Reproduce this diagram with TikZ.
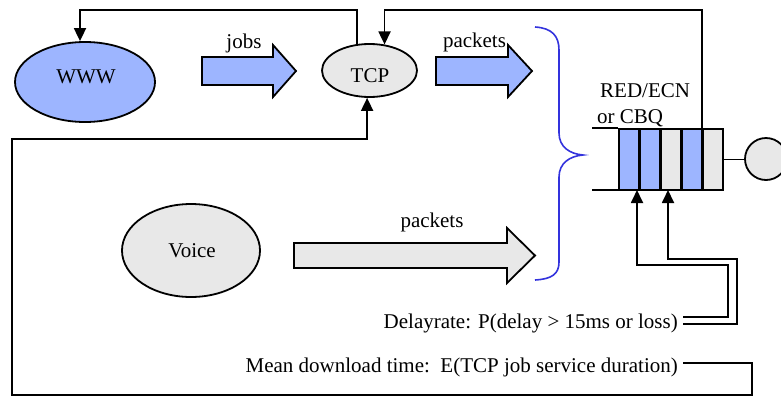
\documentclass[tikz,border=0pt]{standalone}
\usepackage{fontspec}
\setmainfont{Liberation Serif}
\usetikzlibrary{arrows.meta,shapes.geometric,calc}
\definecolor{qblue}{RGB}{157,181,255}
\definecolor{qgray}{RGB}{232,232,232}
\definecolor{bracecol}{RGB}{51,51,221}

\begin{document}
\begin{tikzpicture}[x=1pt,y=-1pt,
  font=\fontsize{21}{25}\selectfont,
  oval/.style={ellipse,draw,line width=1.8pt,inner sep=0pt},
  conn/.style={draw,line width=1.8pt},
  tip/.style={-{Triangle[width=12pt,length=13pt]}},
  blockarrow/.style={draw,line width=1.8pt,line join=miter},
  cell/.style={draw,line width=1.8pt,minimum width=20pt,minimum height=61pt,
    inner sep=0pt,anchor=north west},
  lbl/.style={inner sep=0pt,anchor=base}]
\useasboundingbox (0,0) rectangle (781,397);

% sources and the TCP controller
\node[oval,fill=qblue,minimum width=140pt,minimum height=80pt] (www) at (85,82) {};
\node[lbl] (wwwt) at (86,83) {WWW};
\node[oval,fill=qgray,minimum width=95pt,minimum height=53pt] (tcp) at (369.5,70.5) {};
\node[lbl] (tcpt) at (370,82) {TCP};
\node[oval,fill=qgray,minimum width=138pt,minimum height=93pt] (voice) at (191,250.5) {};
\node[lbl] (voicet) at (192,257) {Voice};

% block arrows
\draw[blockarrow,fill=qblue] (202,57) -- (273,57) -- (273,45) -- (296,71)
  -- (273,97) -- (273,85) -- (202,85) -- cycle;
\node[lbl] (jobs) at (244,48) {jobs};
\draw[blockarrow,fill=qblue] (436,57) -- (508,57) -- (508,45) -- (532,71)
  -- (508,97) -- (508,85) -- (436,85) -- cycle;
\node[lbl] (pk1) at (474.5,47) {packets};
\draw[blockarrow,fill=qgray] (294,243) -- (507,243) -- (507,228) -- (535,255.5)
  -- (507,283) -- (507,268) -- (294,268) -- cycle;
\node[lbl] (pk2) at (432,227) {packets};

% merging brace
\draw[bracecol,line width=1.6pt] (535,27) .. controls (552,28) and (559,36) .. (559,50)
  -- (559,133) .. controls (559,147) and (570,154) .. (583,155)
  .. controls (570,156) and (559,163) .. (559,177)
  -- (559,262) .. controls (559,274) and (552,279) .. (535,280);

% queue with server
\draw[conn] (592,128) -- (618,128);
\draw[conn] (592,190) -- (618,190);
\foreach \i/\c in {1/qblue,2/qblue,3/qgray,4/qblue,5/qgray}
  \node[cell,fill=\c] (cell\i) at ({597+21*\i},128) {};
\node[circle,draw,line width=1.8pt,fill=qgray,minimum size=42pt,inner sep=0pt] (srv) at (766,159) {};
\draw[conn] (cell5.east) -- (cell5.east -| srv.west);
\node[lbl,anchor=base west] (red) at (600,97) {RED/ECN};
\node[lbl,anchor=base west] (cbq) at (597,123) {or CBQ};

% feedback loops at the top
\coordinate (topline) at (0,10);
\draw[conn,tip] (tcp.115) -- (tcp.115 |- topline) -| ([xshift=-5pt]www.north);
\draw[conn,tip] (cell5.north west) -- (cell5.north west |- topline) -| (tcp.60);

% measured quantities
\node[lbl,anchor=base east] (delay) at (678,328) {Delayrate: P(delay > 15ms or loss)};
\node[lbl,anchor=base east] (mean) at (678,372) {Mean download time:\ \ E(TCP job service duration)};

\coordinate (qa) at (637,190);
\coordinate (qb) at (668,190);
\draw[conn,tip] (683,317) -- (728,317) -- (728,265) -| (qa);
\draw[conn,tip] (683,324) -- (737,324) -- (737,259) -| (qb);

\coordinate (m1) at (752,363);
\coordinate (m3) at (12,395);
\coordinate (m4) at (12,139);
\draw[conn,tip] (683,363) -- (m1) |- (m3) -- (m4) -| (tcp.265);
\end{tikzpicture}
\end{document}
